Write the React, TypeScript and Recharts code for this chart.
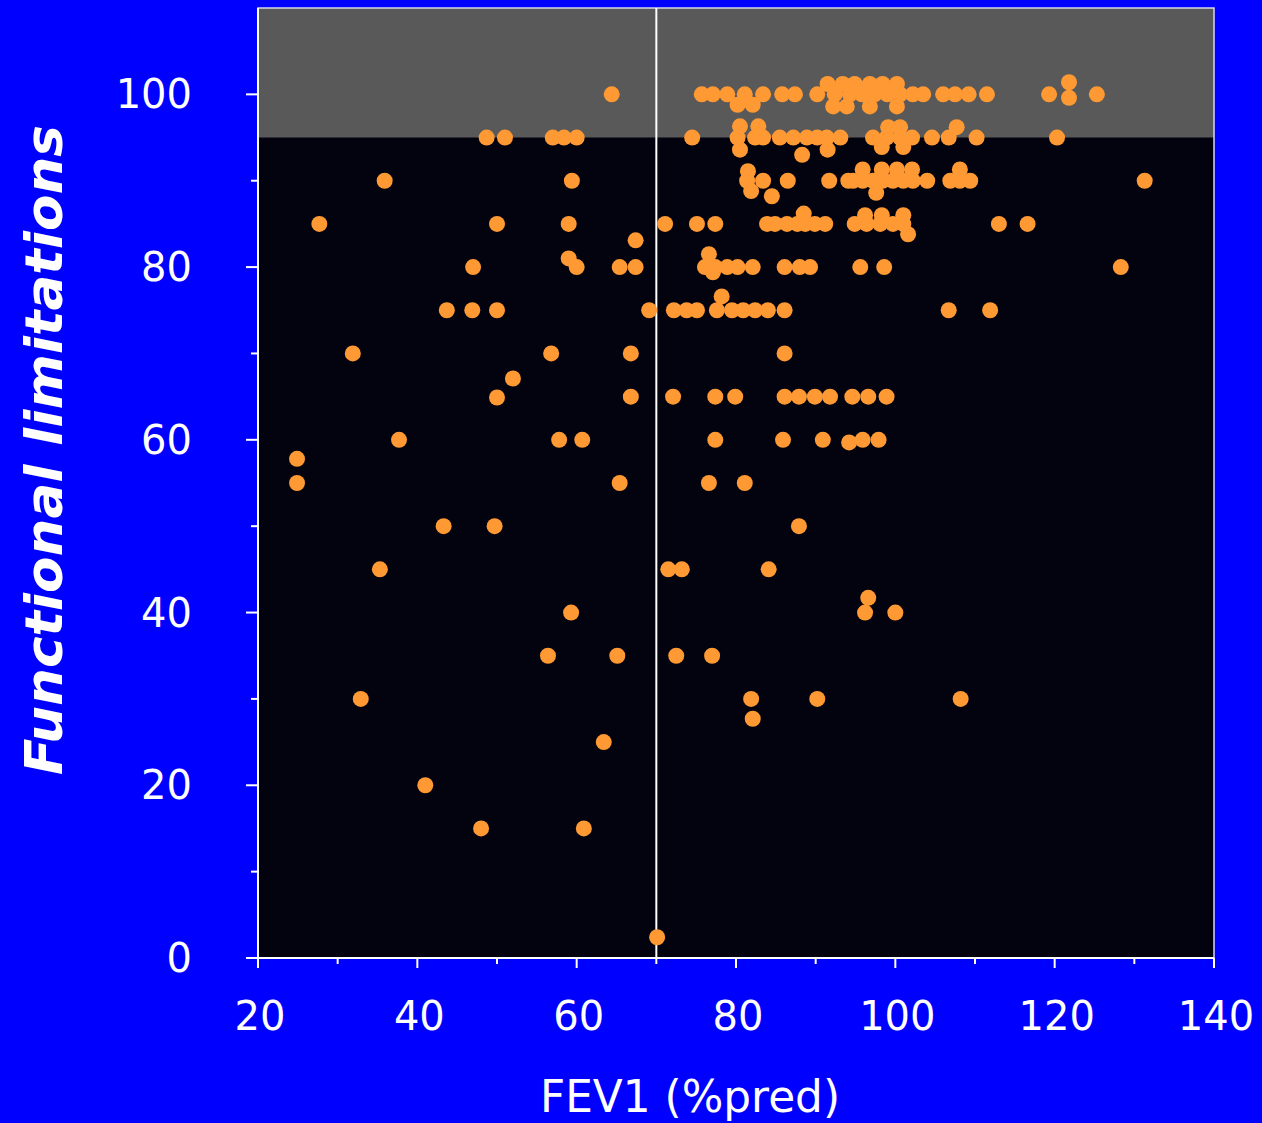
// Scatter of functional limitations vs FEV1 (%pred), with the "no limitation" band shaded
import {
  ScatterChart,
  Scatter,
  XAxis,
  YAxis,
  ReferenceArea,
  ReferenceLine,
} from "recharts";

type Pt = [number, number]; // [FEV1 %pred, functional limitations score]

const row100: Pt[] = [
  [64.4, 100], [75.7, 100], [77.1, 100], [78.9, 100], [81.1, 100], [83.4, 100], [85.8, 100], [87.4, 100],
  [80.2, 98.8], [82.1, 98.8],
  [91.5, 101.2], [93.4, 101.2], [94.9, 101.2], [96.8, 101.2], [98.4, 101.2], [100.2, 101.2],
  [90.2, 100], [92.4, 100], [94.3, 100], [95.8, 100], [97.4, 100], [99.0, 100], [100.6, 100],
  [102.2, 100], [103.5, 100], [106.0, 100], [107.5, 100], [109.2, 100], [111.5, 100],
  [92.2, 98.6], [93.9, 98.6], [96.8, 98.6], [100.2, 98.6],
  [119.3, 100], [121.8, 101.4], [121.8, 99.6], [125.3, 100],
];

const row95: Pt[] = [
  [48.7, 95], [51.0, 95], [57.0, 95], [58.4, 95], [60.0, 95],
  [74.5, 95], [80.2, 95], [82.4, 95], [83.4, 95], [85.5, 95], [87.2, 95], [88.9, 95], [90.2, 95], [91.4, 95], [93.1, 95],
  [80.5, 96.3], [82.8, 96.3], [80.5, 93.6], [91.5, 93.6], [88.3, 93],
  [97.2, 95], [98.9, 95], [100.6, 95], [102.1, 95], [104.6, 95], [106.7, 95], [110.2, 95],
  [99.1, 96.2], [100.6, 96.2], [107.7, 96.2], [98.3, 93.9], [101.0, 93.9],
  [120.3, 95],
];

const row90: Pt[] = [
  [35.9, 90], [59.4, 90],
  [81.4, 90], [83.4, 90], [86.5, 90], [91.7, 90], [94.1, 90],
  [81.5, 91.1], [81.9, 88.8], [84.5, 88.2],
  [94.7, 90], [95.9, 90], [97.2, 90], [98.4, 90], [99.7, 90], [101.0, 90], [102.2, 90], [104.0, 90],
  [106.9, 90], [108.1, 90], [109.4, 90],
  [95.9, 91.3], [98.3, 91.3], [100.2, 91.3], [102.1, 91.3], [108.1, 91.3], [97.6, 88.6],
  [131.3, 90],
];

const row85: Pt[] = [
  [27.7, 85], [50.0, 85], [59.0, 85], [71.1, 85], [67.4, 83.1],
  [75.1, 85], [77.4, 85], [83.9, 85], [84.9, 85], [86.4, 85], [87.7, 85], [88.7, 85], [89.9, 85], [91.2, 85], [88.5, 86.2],
  [94.9, 85], [96.4, 85], [98.1, 85], [99.7, 85], [101.0, 85], [96.2, 86], [98.3, 86], [101.0, 86], [101.6, 83.8],
  [113.0, 85], [116.6, 85],
];

const row80: Pt[] = [
  [47.0, 80], [59.0, 81], [60.0, 80], [65.4, 80], [67.4, 80],
  [76.1, 80], [77.4, 80], [78.9, 80], [80.2, 80], [82.1, 80], [86.1, 80], [88.0, 80], [89.3, 80],
  [76.6, 81.5], [77.1, 79.4],
  [95.6, 80], [98.6, 80], [128.3, 80],
];

const row75: Pt[] = [
  [43.7, 75], [46.9, 75], [50.0, 75], [69.1, 75], [72.2, 75],
  [73.8, 75], [75.1, 75], [77.6, 75], [79.5, 75], [80.9, 75], [82.4, 75], [84.0, 75], [86.1, 75], [78.2, 76.6],
  [106.7, 75], [111.9, 75],
];

const row70to60: Pt[] = [
  [31.9, 70], [56.8, 70], [66.8, 70], [86.1, 70], [52.0, 67.1],
  [50.0, 64.9], [66.8, 65], [72.1, 65], [77.4, 65], [79.9, 65], [86.1, 65], [87.9, 65], [89.9, 65],
  [91.8, 65], [94.6, 65], [96.6, 65], [98.9, 65],
  [37.7, 60], [57.8, 60], [60.7, 60], [77.4, 60], [85.9, 60], [90.9, 60], [94.2, 59.7], [95.9, 60], [97.9, 60],
];

const rowLow: Pt[] = [
  [24.9, 57.8], [24.9, 55], [65.4, 55], [76.6, 55], [81.1, 55],
  [43.3, 50], [49.7, 50], [87.9, 50],
  [35.3, 45], [71.5, 45], [73.2, 45], [84.1, 45],
  [59.3, 40], [96.6, 41.7], [96.2, 40], [100.0, 40],
  [56.4, 35], [65.1, 35], [72.5, 35], [77.0, 35],
  [32.9, 30], [81.9, 30], [90.2, 30], [108.2, 30], [82.1, 27.7],
  [63.4, 25], [41.0, 20], [48.0, 15], [60.9, 15], [70.1, 2.4],
];

const xTicks = [20, 30, 40, 50, 60, 70, 80, 90, 100, 110, 120, 130, 140];
const yTicks = [0, 10, 20, 30, 40, 50, 60, 70, 80, 90, 100];

const FONT = '"Comic Sans MS", "DejaVu Sans", sans-serif';

const points = [...row100, ...row95, ...row90, ...row85, ...row80, ...row75, ...row70to60, ...rowLow].map(
  ([x, y]) => ({ x, y })
);

function XTick({ x, y, payload }: any) {
  const major = payload.value % 20 === 0;
  return (
    <g>
      <line x1={x} y1={y} x2={x} y2={y + (major ? 10 : 6)} stroke="#fff" strokeWidth={2} />
      {major && (
        <text x={x + 2} y={y + 72} textAnchor="middle" fill="#fff" fontSize={40} fontFamily={FONT}>
          {payload.value}
        </text>
      )}
    </g>
  );
}

function YTick({ x, y, payload }: any) {
  const major = payload.value % 20 === 0;
  return (
    <g>
      <line x1={x - (major ? 12 : 7)} y1={y} x2={x} y2={y} stroke="#fff" strokeWidth={2} />
      {major && (
        <text x={x - 66} y={y + 14} textAnchor="end" fill="#fff" fontSize={40} fontFamily={FONT}>
          {payload.value}
        </text>
      )}
    </g>
  );
}

const dot = (p: any) => <circle cx={p.cx} cy={p.cy} r={8} fill="#FF9933" />;

export default function App() {
  return (
    <div style={{ position: "absolute", left: 0, top: 0, width: 1262, height: 1123, background: "#0000FF" }}>
      <ScatterChart width={1262} height={1123} margin={{ top: 8, right: 48, bottom: 65, left: 118 }}>
        <XAxis
          type="number"
          dataKey="x"
          domain={[20, 140]}
          ticks={xTicks}
          interval={0}
          allowDataOverflow
          height={100}
          axisLine={{ stroke: "#fff", strokeWidth: 2 }}
          tickLine={false}
          tickSize={0}
          tickMargin={0}
          tick={(p: any) => <XTick {...p} />}
          label={{
            content: ({ viewBox }: any) => (
              <text
                x={viewBox.x + 432}
                y={viewBox.y + 154}
                textAnchor="middle"
                fill="#fff"
                fontSize={44}
                fontFamily={FONT}
                textLength={300}
                lengthAdjust="spacingAndGlyphs"
              >
                FEV1 (%pred)
              </text>
            ),
          }}
        />
        <YAxis
          type="number"
          dataKey="y"
          domain={[0, 110]}
          ticks={yTicks}
          interval={0}
          allowDataOverflow
          width={140}
          axisLine={{ stroke: "#fff", strokeWidth: 2 }}
          tickLine={false}
          tickSize={0}
          tickMargin={0}
          tick={(p: any) => <YTick {...p} />}
          label={{
            content: ({ viewBox }: any) => {
              const cx = viewBox.x - 73;
              const cy = viewBox.y + 442;
              return (
                <text
                  x={cx}
                  y={cy + 17}
                  transform={`rotate(-90, ${cx}, ${cy})`}
                  textAnchor="middle"
                  fill="#fff"
                  fontSize={52}
                  fontWeight="bold"
                  fontStyle="italic"
                  fontFamily={FONT}
                  textLength={650}
                  lengthAdjust="spacingAndGlyphs"
                >
                  Functional limitations
                </text>
              );
            },
          }}
        />
        <ReferenceArea x1={20} x2={140} y1={0} y2={110} fill="#03020F" fillOpacity={1} stroke="none" />
        <ReferenceArea x1={20} x2={140} y1={95} y2={110} fill="#595959" fillOpacity={1} stroke="none" />
        <ReferenceArea x1={20} x2={140} y1={0} y2={110} fill="none" stroke="#d8d8e8" strokeWidth={1.5} />
        <ReferenceLine x={70} stroke="#fff" strokeWidth={2} />
        <Scatter data={points} shape={dot} isAnimationActive={false} />
      </ScatterChart>
    </div>
  );
}
